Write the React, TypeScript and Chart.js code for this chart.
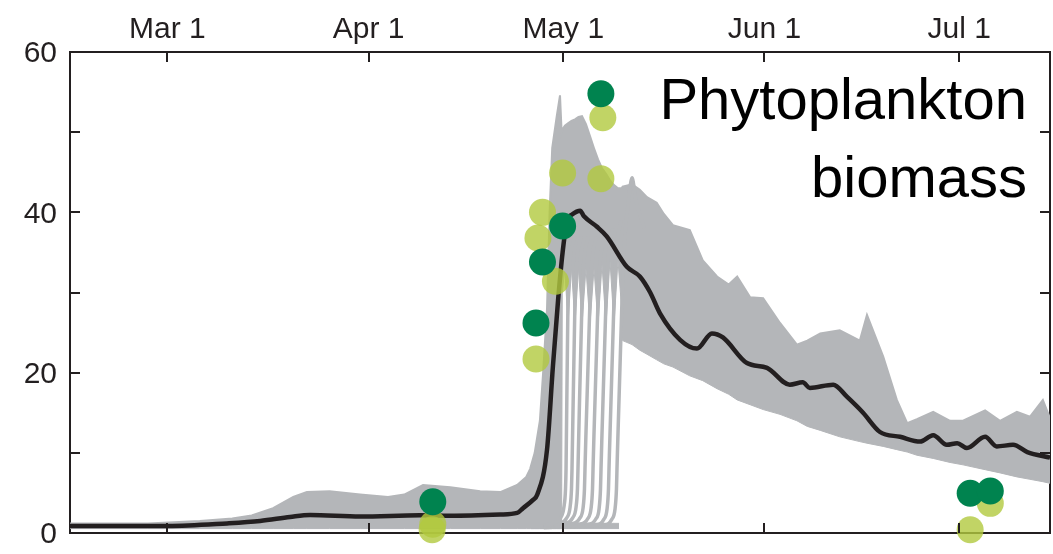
import React, { useEffect, useRef } from 'react';
import { Chart, registerables } from 'chart.js';

Chart.register(...registerables);

// ---- axis ticks (day of year, non-leap) ----
const monthTickDays = [60, 91, 121, 152, 182];
const monthTickLabels = ['Mar 1', 'Apr 1', 'May 1', 'Jun 1', 'Jul 1'];
const yMarkValues = [10, 20, 30, 40, 50];
const X_MIN = 45;
const X_MAX = 196;

// ---- ensemble mean (black line) ----
const meanDays = [45, 60.1, 69.2, 74.3, 78.9, 82.0, 89.7, 98.9, 103.6, 111.3, 113.9, 114.8, 116.3, 117.0, 118.5, 119.4, 120.2, 120.9, 121.6, 122.3, 123.6, 124.2, 126.2, 127.7, 130.8, 132.8, 134.4, 135.9, 139.0, 141.6, 143.9, 145.6, 149.3, 152.4, 155.9, 157.9, 159.0, 162.6, 164.7, 167.2, 169.8, 172.9, 176.0, 178.0, 180.1, 181.7, 183.2, 186.0, 187.8, 190.3, 192.5, 196];
const meanValues = [0.87, 0.87, 1.2, 1.5, 2.0, 2.25, 2.05, 2.2, 2.15, 2.3, 2.5, 3.1, 4.1, 4.8, 10.4, 20.7, 29, 35, 39, 39.7, 40.2, 39.5, 38.2, 37, 33.2, 32, 30, 27.4, 24.1, 23, 24.9, 24.4, 21.2, 20.6, 18.5, 18.8, 18.1, 18.5, 17, 15, 12.6, 12, 11.4, 12.2, 11, 11.2, 10.6, 12, 10.8, 11, 10.1, 9.4];

// ---- ensemble envelope (gray band) ----
const bandDays = [45.0, 57.0, 65.0, 70.0, 73.0, 76.3, 79.4, 81.5, 85.0, 89.7, 94.0, 96.5, 99.4, 103.6, 108.2, 111.3, 113.9, 115.3, 115.9, 116.6, 117.4, 117.9, 118.5, 118.9, 119.3, 120.0, 120.5, 120.75, 120.85, 121.25, 121.73, 122.27, 122.81, 123.35, 123.89, 124.5, 125.12, 125.74, 126.36, 126.97, 127.59, 128.2, 128.82, 129.43, 130.0, 130.15, 131.6, 132.8, 133.9, 135.4, 136.5, 137.9, 140.5, 142.5, 144.7, 146.5, 147.8, 149.8, 151.8, 154.4, 157.0, 158.6, 160.6, 163.6, 166.7, 167.8, 170.3, 172.4, 174.0, 175.5, 178.0, 180.6, 182.6, 186.0, 188.3, 190.9, 192.9, 194.9, 196.0];
const bandUpper = [1.2, 1.2, 1.5, 1.8, 2.2, 3.1, 4.5, 5.1, 5.2, 4.8, 4.5, 4.8, 6.0, 5.7, 5.2, 5.1, 6.0, 7.0, 8.0, 10.0, 14.0, 20.0, 28.0, 40.0, 48.0, 52.0, 54.6, 50.0, 50.3, 50.8, 51.1, 51.4, 51.6, 51.9, 52.0, 51.0, 49.5, 48.0, 46.6, 45.5, 44.8, 44.0, 43.4, 43.0, 43.0, 43.2, 43.5, 42.8, 41.9, 41.2, 39.8, 38.4, 37.8, 34.0, 32.0, 31.0, 32.0, 29.4, 29.3, 26.2, 23.5, 24.0, 24.9, 25.3, 24.0, 27.2, 22.0, 16.6, 13.7, 14.2, 15.1, 14.0, 14.0, 15.3, 14.0, 15.1, 14.5, 16.6, 14.3];
const bandLower = [0.55, 0.55, 0.55, 0.55, 0.55, 0.55, 0.55, 0.55, 0.55, 0.55, 0.55, 0.55, 0.55, 0.55, 0.55, 0.55, 0.55, 0.55, 0.55, 0.55, 0.55, 0.55, 0.55, 0.55, 0.55, 0.55, 0.55, 0.55, 30.0, 33.0, 26.0, 33.0, 26.0, 33.0, 26.0, 33.0, 26.0, 33.0, 26.0, 33.5, 26.0, 34.0, 26.0, 34.0, 28.0, 24.0, 23.5, 22.8, 22.3, 21.6, 21.1, 20.7, 19.6, 19.0, 18.0, 17.3, 16.6, 16.0, 15.4, 14.8, 14.0, 13.3, 12.8, 12.0, 11.4, 11.2, 10.8, 10.4, 10.1, 9.7, 9.3, 8.8, 8.5, 7.9, 7.5, 7.0, 6.7, 6.4, 6.2];

// ---- flat bottoms of the late-blooming runs ----
const stripDays = [116.0, 129.6];
const stripUpper = [1.3, 1.2];
const stripLower = [0.55, 0.55];

// ---- individual late-blooming runs ----
const late1Days = [118.0, 119.4, 120.6, 121.1, 121.35, 121.43, 121.73, 122.05, 122.8];
const late1Values = [1.0, 1.2, 1.9, 3.2, 5.5, 8, 29, 34, 37];
const late2Days = [118.0, 120.35, 121.55, 122.05, 122.27, 122.35, 122.81, 123.1, 123.8];
const late2Values = [0.95, 1.2, 1.9, 3.2, 5.5, 8, 29, 34, 37];
const late3Days = [118.0, 121.27, 122.47, 122.97, 123.19, 123.27, 123.89, 124.2, 124.9];
const late3Values = [0.9, 1.2, 1.9, 3.2, 5.5, 8, 29, 34, 37];
const late4Days = [118.0, 122.35, 123.55, 124.05, 124.27, 124.35, 125.12, 125.45, 126.1];
const late4Values = [0.85, 1.15, 1.85, 3.1, 5.5, 8, 29, 34, 37];
const late5Days = [118.0, 123.59, 124.79, 125.29, 125.51, 125.59, 126.36, 126.7, 127.4];
const late5Values = [0.8, 1.1, 1.8, 3.1, 5.5, 8, 29, 34, 37];
const late6Days = [118.0, 124.82, 126.02, 126.52, 126.74, 126.82, 127.59, 127.9, 128.6];
const late6Values = [0.75, 1.05, 1.75, 3.0, 5.5, 8, 29, 34, 38];
const late7Days = [118.0, 126.05, 127.25, 127.75, 127.97, 128.05, 128.82, 129.15, 129.9];
const late7Values = [0.7, 1.0, 1.7, 3.0, 5.5, 8, 29, 35, 39];
const late8Days = [118.0, 127.28, 128.48, 128.98, 129.2, 129.28, 130.05, 130.5, 131.0, 131.6, 132.2, 133.5];
const late8Values = [0.7, 1.0, 1.7, 3.0, 5.5, 8, 29, 37, 41, 44.3, 41.5, 38];

// ---- observations ----
const darkObsDays = [100.9, 116.8, 117.8, 120.9, 126.8, 183.7, 186.8];
const darkObsValues = [3.9, 26.2, 33.8, 38.3, 54.8, 4.95, 5.24];
const lightObsDays = [100.9, 100.8, 116.8, 117.1, 117.8, 119.8, 120.9, 126.8, 127.1, 186.8, 183.7];
const lightObsValues = [1.1, 0.4, 21.7, 36.8, 40.0, 31.4, 44.9, 44.2, 51.8, 3.7, 0.4];

const AXIS = '#231f20';
const GRAY = '#b4b6b9';
const FONT = '"Liberation Sans", Arial, sans-serif';

const pts = (xs: number[], ys: number[]) => xs.map((x, i) => ({ x, y: ys[i] }));

const zeroPad = (scale: any) => {
  scale.paddingLeft = 0;
  scale.paddingRight = 0;
  scale.paddingTop = 0;
  scale.paddingBottom = 0;
};

const innerTicks = {
  id: 'innerTicks',
  afterDatasetsDraw(chart: any) {
    const { ctx, chartArea: a, scales } = chart;
    const xs = scales.x;
    const ys = scales.y;
    ctx.save();
    ctx.strokeStyle = AXIS;
    ctx.lineWidth = 2;
    ctx.beginPath();
    monthTickDays.forEach((d) => {
      const px = Math.round(xs.getPixelForValue(d));
      ctx.moveTo(px, a.top);
      ctx.lineTo(px, a.top + 10);
      ctx.moveTo(px, a.bottom);
      ctx.lineTo(px, a.bottom - 10);
    });
    yMarkValues.forEach((v) => {
      const py = Math.round(ys.getPixelForValue(v));
      ctx.moveTo(a.left, py);
      ctx.lineTo(a.left + 10, py);
      ctx.moveTo(a.right, py);
      ctx.lineTo(a.right - 10, py);
    });
    ctx.stroke();
    ctx.restore();
  },
};

const titleText = {
  id: 'titleText',
  afterDraw(chart: any) {
    const { ctx, chartArea: a } = chart;
    ctx.save();
    ctx.font = `58px ${FONT}`;
    ctx.fillStyle = '#000';
    ctx.textAlign = 'right';
    ctx.textBaseline = 'alphabetic';
    ctx.fillText('Phytoplankton', a.right - 23, a.top + 67);
    ctx.fillText('biomass', a.right - 23, a.top + 145);
    ctx.restore();
  },
};

export default function App() {
  const ref = useRef<HTMLCanvasElement | null>(null);

  useEffect(() => {
    if (!ref.current) return;
    const lateSets = [
      [late1Days, late1Values],
      [late2Days, late2Values],
      [late3Days, late3Values],
      [late4Days, late4Values],
      [late5Days, late5Values],
      [late6Days, late6Values],
      [late7Days, late7Values],
      [late8Days, late8Values],
    ];
    const datasets: any[] = [];
    datasets.push({
      label: 'obs dark',
      data: pts(darkObsDays, darkObsValues),
      showLine: false,
      pointRadius: 13.5,
      pointBackgroundColor: '#00834f',
      pointBorderWidth: 0,
      clip: false,
      order: 0,
    });
    datasets.push({
      label: 'obs light',
      data: pts(lightObsDays, lightObsValues),
      showLine: false,
      pointRadius: 13.5,
      pointBackgroundColor: 'rgba(178, 201, 62, 0.8)',
      pointBorderWidth: 0,
      clip: false,
      order: 1,
    });
    datasets.push({
      label: 'mean',
      data: pts(meanDays, meanValues),
      borderColor: AXIS,
      borderWidth: 4.5,
      pointRadius: 0,
      cubicInterpolationMode: 'monotone',
      fill: false,
      order: 2,
    });
    lateSets.forEach(([d, v], i) => {
      datasets.push({
        label: 'late' + i,
        data: pts(d, v),
        borderColor: GRAY,
        borderWidth: 3.5,
        pointRadius: 0,
        cubicInterpolationMode: 'monotone',
        fill: false,
        order: 3,
      });
    });
    const bandLowerIdx = datasets.length + 1;
    datasets.push({
      label: 'band upper',
      data: pts(bandDays, bandUpper),
      borderColor: GRAY,
      borderWidth: 2,
      backgroundColor: GRAY,
      pointRadius: 0,
      tension: 0,
      fill: { target: bandLowerIdx },
      order: 4,
    });
    datasets.push({
      label: 'band lower',
      data: pts(bandDays, bandLower),
      borderColor: GRAY,
      borderWidth: 1,
      pointRadius: 0,
      tension: 0,
      fill: false,
      order: 5,
    });
    const stripLowerIdx = datasets.length + 1;
    datasets.push({
      label: 'strip upper',
      data: pts(stripDays, stripUpper),
      borderColor: GRAY,
      borderWidth: 1,
      backgroundColor: GRAY,
      pointRadius: 0,
      fill: { target: stripLowerIdx },
      order: 6,
    });
    datasets.push({
      label: 'strip lower',
      data: pts(stripDays, stripLower),
      borderColor: GRAY,
      borderWidth: 1,
      pointRadius: 0,
      fill: false,
      order: 7,
    });

    const tickFont = { family: FONT, size: 30 };
    const chart = new Chart(ref.current, {
      type: 'line',
      data: { datasets },
      options: {
        animation: false,
        responsive: true,
        maintainAspectRatio: false,
        layout: { padding: 0, autoPadding: false },
        plugins: { legend: { display: false }, tooltip: { enabled: false } },
        scales: {
          x: {
            type: 'linear',
            position: 'top',
            min: X_MIN,
            max: X_MAX,
            grid: { display: false, drawTicks: false },
            border: { display: true, color: AXIS, width: 2 },
            afterBuildTicks: (scale: any) => {
              scale.ticks = monthTickDays.map((v) => ({ value: v }));
            },
            afterFit: (scale: any) => {
              scale.height = 52;
              zeroPad(scale);
            },
            ticks: {
              autoSkip: false,
              maxRotation: 0,
              padding: 4,
              color: AXIS,
              font: tickFont,
              callback: (value: any) => {
                const i = monthTickDays.indexOf(Number(value));
                return i >= 0 ? monthTickLabels[i] : '';
              },
            },
          },
          x2: {
            type: 'linear',
            position: 'bottom',
            min: X_MIN,
            max: X_MAX,
            grid: { display: false, drawTicks: false },
            border: { display: true, color: AXIS, width: 2 },
            ticks: { display: false },
            afterFit: (scale: any) => {
              scale.height = 21;
              zeroPad(scale);
            },
          },
          y: {
            type: 'linear',
            position: 'left',
            min: 0,
            max: 60,
            grid: { display: false, drawTicks: false },
            border: { display: true, color: AXIS, width: 2 },
            ticks: { stepSize: 20, padding: 13, labelOffset: 2, color: AXIS, font: tickFont },
            afterFit: (scale: any) => {
              scale.width = 70;
              zeroPad(scale);
            },
          },
          y2: {
            type: 'linear',
            position: 'right',
            min: 0,
            max: 60,
            grid: { display: false, drawTicks: false },
            border: { display: true, color: AXIS, width: 2 },
            ticks: { display: false },
            afterFit: (scale: any) => {
              scale.width = 3;
              zeroPad(scale);
            },
          },
        },
      },
      plugins: [innerTicks, titleText],
    });
    return () => chart.destroy();
  }, []);

  return (
    <div style={{ position: 'fixed', left: 0, top: 0, width: 1053, height: 554, background: '#fff' }}>
      <canvas ref={ref} style={{ display: 'block' }} />
    </div>
  );
}
